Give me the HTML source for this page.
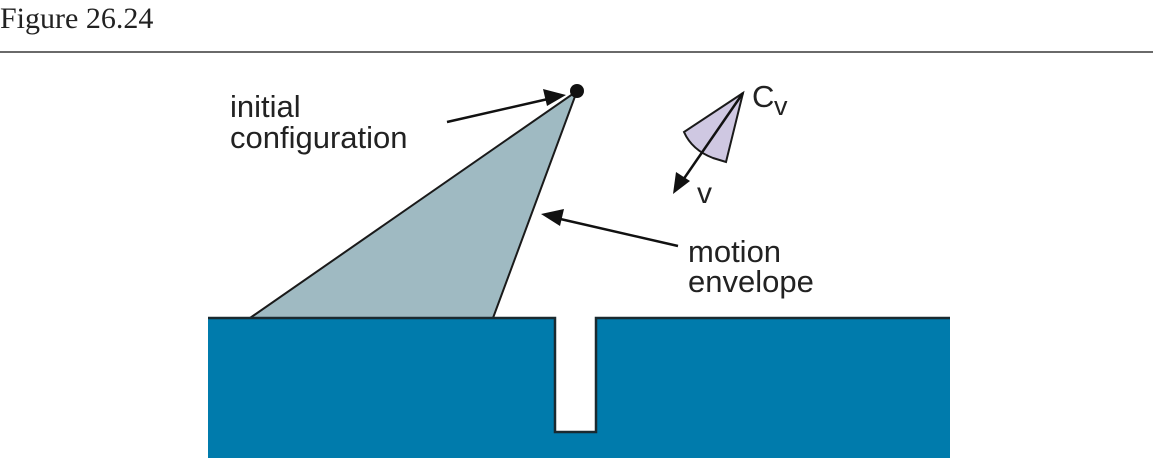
<!DOCTYPE html>
<html><head><style>
html,body{margin:0;padding:0;background:#fff;width:1153px;height:467px;overflow:hidden}
</style></head><body>
<svg width="1153" height="467" xmlns="http://www.w3.org/2000/svg">
<text x="0" y="28" font-family="Liberation Serif, serif" font-size="30" fill="#222">Figure 26.24</text>
<rect x="0" y="51" width="1153" height="2" fill="#6a6a6a"/>
<polygon points="250,318 577,91 493,318" fill="#9fbac2" stroke="#1a1a1a" stroke-width="2"/>
<path d="M208,318 H555 V432 H596 V318 H950 V458 H208 Z" fill="#007bac"/>
<path d="M208,318 H555 V432 H596 V318 H950" fill="none" stroke="#1a2a30" stroke-width="2.5"/>
<circle cx="577" cy="91" r="7" fill="#111"/>
<line x1="447" y1="122" x2="548" y2="99" stroke="#111" stroke-width="2.5"/>
<polygon points="566,95 543,89 547,106" fill="#111"/>
<line x1="678" y1="246" x2="556" y2="218" stroke="#111" stroke-width="2.5"/>
<polygon points="541,214 564,209 560,226" fill="#111"/>
<path d="M743,93 L684,132 Q692,150 713,158 L726,162 Z" fill="#cfc8e2" stroke="#1a1a1a" stroke-width="2"/>
<line x1="743" y1="93" x2="683" y2="180" stroke="#111" stroke-width="2.5"/>
<polygon points="673,194 676,172 690,181" fill="#111"/>
<g font-family="Liberation Sans, Arial, sans-serif" font-size="31" fill="#222">
<text x="230" y="117">initial</text>
<text x="230" y="148">configuration</text>
<text x="688" y="262">motion</text>
<text x="688" y="292">envelope</text>
<text x="697" y="203" font-size="30">v</text>
<text x="752" y="107">C</text>
<text x="774" y="115" font-size="27">v</text>
</g>
</svg>
</body></html>
